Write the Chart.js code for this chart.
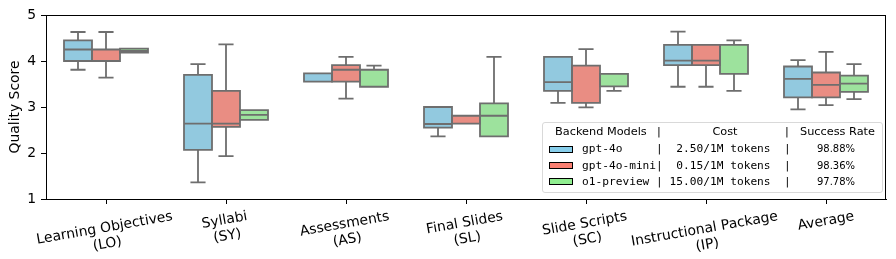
<!DOCTYPE html>
<html>
<head>
<meta charset="UTF-8" />
<script src="https://cdn.jsdelivr.net/npm/chart.js"></script>
<style>
  body { margin: 0; background: #fff; font-family: 'DejaVu Sans', sans-serif; }
  #wrap { position: relative; width: 896px; height: 259px; }
  .legend { position: absolute; left: 542px; top: 122px; width: 341px; height: 71px; box-sizing: border-box;
            border: 1px solid #d9d9d9; border-radius: 3px; background: rgba(255,255,255,0.8); }
  .legend div { position: absolute; white-space: pre; line-height: 14px; color: #000; }
  .legend .c { transform: translateX(-50%); }
  .hdr { font: 11.3px 'DejaVu Sans', sans-serif; }
  .mono { font: 11.2px 'DejaVu Sans Mono', monospace; }
  .pct { font: 10px 'DejaVu Sans', sans-serif; }
  .legend .patch { width: 24px; height: 7px; border: 1px solid #000; box-sizing: border-box; line-height: 0; }
</style>
</head>
<body>
<div id="wrap">
  <canvas id="chart"></canvas>
  <div class="legend" id="legend"></div>
</div>
<script>
  const categories = [
    ['Learning Objectives', '(LO)'],
    ['Syllabi', '(SY)'],
    ['Assessments', '(AS)'],
    ['Final Slides', '(SL)'],
    ['Slide Scripts', '(SC)'],
    ['Instructional Package', '(IP)'],
    ['Average']
  ];
  const modelNames = ['gpt-4o', 'gpt-4o-mini', 'o1-preview'];
  const modelCosts = ['2.50/1M tokens', '0.15/1M tokens', '15.00/1M tokens'];
  const successRates = ['98.88%', '98.36%', '97.78%'];

  // each entry: [min, q1, median, q3, max]
  const gpt4oStats = [
    [3.81, 4.00, 4.25, 4.45, 4.63],
    [1.36, 2.07, 2.64, 3.70, 3.93],
    [3.55, 3.55, 3.55, 3.73, 3.73],
    [2.36, 2.55, 2.63, 3.00, 3.00],
    [3.09, 3.35, 3.54, 4.09, 4.09],
    [3.44, 3.91, 4.01, 4.35, 4.64],
    [2.95, 3.21, 3.61, 3.88, 4.02]
  ];
  const gpt4oMiniStats = [
    [3.64, 4.00, 4.00, 4.25, 4.63],
    [1.93, 2.57, 2.64, 3.35, 4.36],
    [3.18, 3.55, 3.81, 3.91, 4.09],
    [2.64, 2.64, 2.64, 2.81, 2.81],
    [2.99, 3.09, 3.09, 3.90, 4.26],
    [3.44, 3.91, 4.01, 4.35, 4.35],
    [3.04, 3.21, 3.48, 3.75, 4.20]
  ];
  const o1PreviewStats = [
    [4.18, 4.18, 4.22, 4.27, 4.27],
    [2.72, 2.72, 2.83, 2.93, 2.93],
    [3.44, 3.44, 3.44, 3.81, 3.90],
    [2.36, 2.36, 2.81, 3.08, 4.09],
    [3.35, 3.45, 3.45, 3.72, 3.72],
    [3.35, 3.72, 4.35, 4.35, 4.45],
    [3.17, 3.33, 3.51, 3.68, 3.93]
  ];
  const yTicks = [1, 2, 3, 4, 5];

  const boxColors = ['#92c9df', '#e98d83', '#9de29d'];
  const legendColors = ['#87ceeb', '#fa8072', '#90ee90'];
  const edgeColor = '#6e6e6e';
  const FONT = "'DejaVu Sans', sans-serif";

  const allStats = [gpt4oStats, gpt4oMiniStats, o1PreviewStats];

  // box outline, median and whiskers drawn on top of the floating bars
  const boxPlot = {
    id: 'boxPlot',
    afterDatasetsDraw(chart) {
      const { ctx } = chart;
      const y = chart.scales.y;
      ctx.save();
      ctx.strokeStyle = edgeColor;
      ctx.lineWidth = 1.8;
      chart.data.datasets.forEach((ds, i) => {
        chart.getDatasetMeta(i).data.forEach((bar, j) => {
          const [mn, q1, md, q3, mx] = ds.stats[j];
          const half = bar.width / 2, cap = bar.width * 0.27;
          const yMin = y.getPixelForValue(mn), yQ1 = y.getPixelForValue(q1);
          const yMd = y.getPixelForValue(md), yQ3 = y.getPixelForValue(q3);
          const yMax = y.getPixelForValue(mx);
          ctx.beginPath();
          ctx.rect(bar.x - half, yQ3, bar.width, yQ1 - yQ3);
          ctx.moveTo(bar.x - half, yMd); ctx.lineTo(bar.x + half, yMd);
          ctx.moveTo(bar.x, yQ3); ctx.lineTo(bar.x, yMax);
          ctx.moveTo(bar.x - cap, yMax); ctx.lineTo(bar.x + cap, yMax);
          ctx.moveTo(bar.x, yQ1); ctx.lineTo(bar.x, yMin);
          ctx.moveTo(bar.x - cap, yMin); ctx.lineTo(bar.x + cap, yMin);
          ctx.stroke();
        });
      });
      ctx.restore();
    }
  };

  // full frame + rotated, centred category labels
  const frameAndLabels = {
    id: 'frameAndLabels',
    afterDraw(chart) {
      const { ctx, chartArea: a } = chart;
      const x = chart.scales.x;
      ctx.save();
      ctx.strokeStyle = '#000';
      ctx.lineWidth = 1;
      ctx.strokeRect(Math.round(a.left) + 0.5, Math.round(a.top) + 0.5,
                     Math.round(a.right - a.left) - 1, Math.round(a.bottom - a.top));
      ctx.font = '13.9px ' + FONT;
      ctx.fillStyle = '#000';
      ctx.textAlign = 'center';
      ctx.textBaseline = 'middle';
      const rot = 10 * Math.PI / 180, lh = 16;
      categories.forEach((lines, i) => {
        const w = Math.max(...lines.map(t => ctx.measureText(t).width));
        const h = lines.length * lh;
        const cy = a.bottom + 9.5 + (w * Math.sin(rot) + h * Math.cos(rot)) / 2;
        ctx.save();
        ctx.translate(x.getPixelForTick(i), cy);
        ctx.rotate(-rot);
        lines.forEach((t, k) => ctx.fillText(t, 0, (k - (lines.length - 1) / 2) * lh));
        ctx.restore();
      });
      ctx.restore();
    }
  };

  new Chart(document.getElementById('chart'), {
    type: 'bar',
    data: {
      labels: categories.map(c => c.join(' ')),
      datasets: allStats.map((stats, i) => ({
        label: modelNames[i],
        data: stats.map(s => [s[1], s[3]]),
        stats: stats,
        backgroundColor: boxColors[i],
        borderWidth: 0,
        categoryPercentage: 0.7,
        barPercentage: 1.0
      }))
    },
    options: {
      responsive: true,
      maintainAspectRatio: false,
      animation: false,
      events: [],
      layout: { padding: { left: 0, right: 10, top: 15, bottom: 60 } },
      plugins: { legend: { display: false }, tooltip: { enabled: false } },
      scales: {
        x: {
          offset: true,
          grid: { display: true, offset: false, drawOnChartArea: false, drawTicks: true, tickLength: 5, color: '#000' },
          border: { display: true, color: '#000', width: 1 },
          ticks: { display: false },
          afterFit: (s) => { s.height = 0; }
        },
        y: {
          min: 1,
          max: 5,
          afterBuildTicks: (s) => { s.ticks = yTicks.map(v => ({ value: v })); },
          afterFit: (s) => { s.width = 46; },
          grid: { display: true, drawOnChartArea: false, drawTicks: true, tickLength: 5, color: '#000' },
          border: { display: true, color: '#000', width: 1 },
          ticks: { color: '#000', padding: 5, font: { family: FONT, size: 13.9 } },
          title: { display: true, text: 'Quality Score', color: '#000', padding: { top: 7, bottom: 0 },
                   font: { family: FONT, size: 13.9 } }
        }
      }
    },
    plugins: [boxPlot, frameAndLabels]
  });

  // legend table (HTML overlay)
  const legend = document.getElementById('legend');
  let html = '';
  html += '<div class="hdr" style="left:12px;top:2px">Backend Models</div>';
  html += '<div class="hdr c" style="left:116px;top:2px">|</div>';
  html += '<div class="hdr c" style="left:182px;top:2px">Cost</div>';
  html += '<div class="hdr c" style="left:244px;top:2px">|</div>';
  html += '<div class="hdr" style="left:257px;top:2px">Success Rate</div>';
  modelNames.forEach((name, i) => {
    const top = 19.3 + i * 16.2;
    const row = name.padEnd(11) + '|' + modelCosts[i].padStart(16) + '  |';
    html += `<div class="patch" style="left:6px;top:${top + 3.5}px;background:${legendColors[i]}"></div>`;
    html += `<div class="mono" style="left:39px;top:${top}px">${row}</div>`;
    html += `<div class="pct c" style="left:293px;top:${top}px">${successRates[i]}</div>`;
  });
  legend.innerHTML = html;
</script>
</body>
</html>
